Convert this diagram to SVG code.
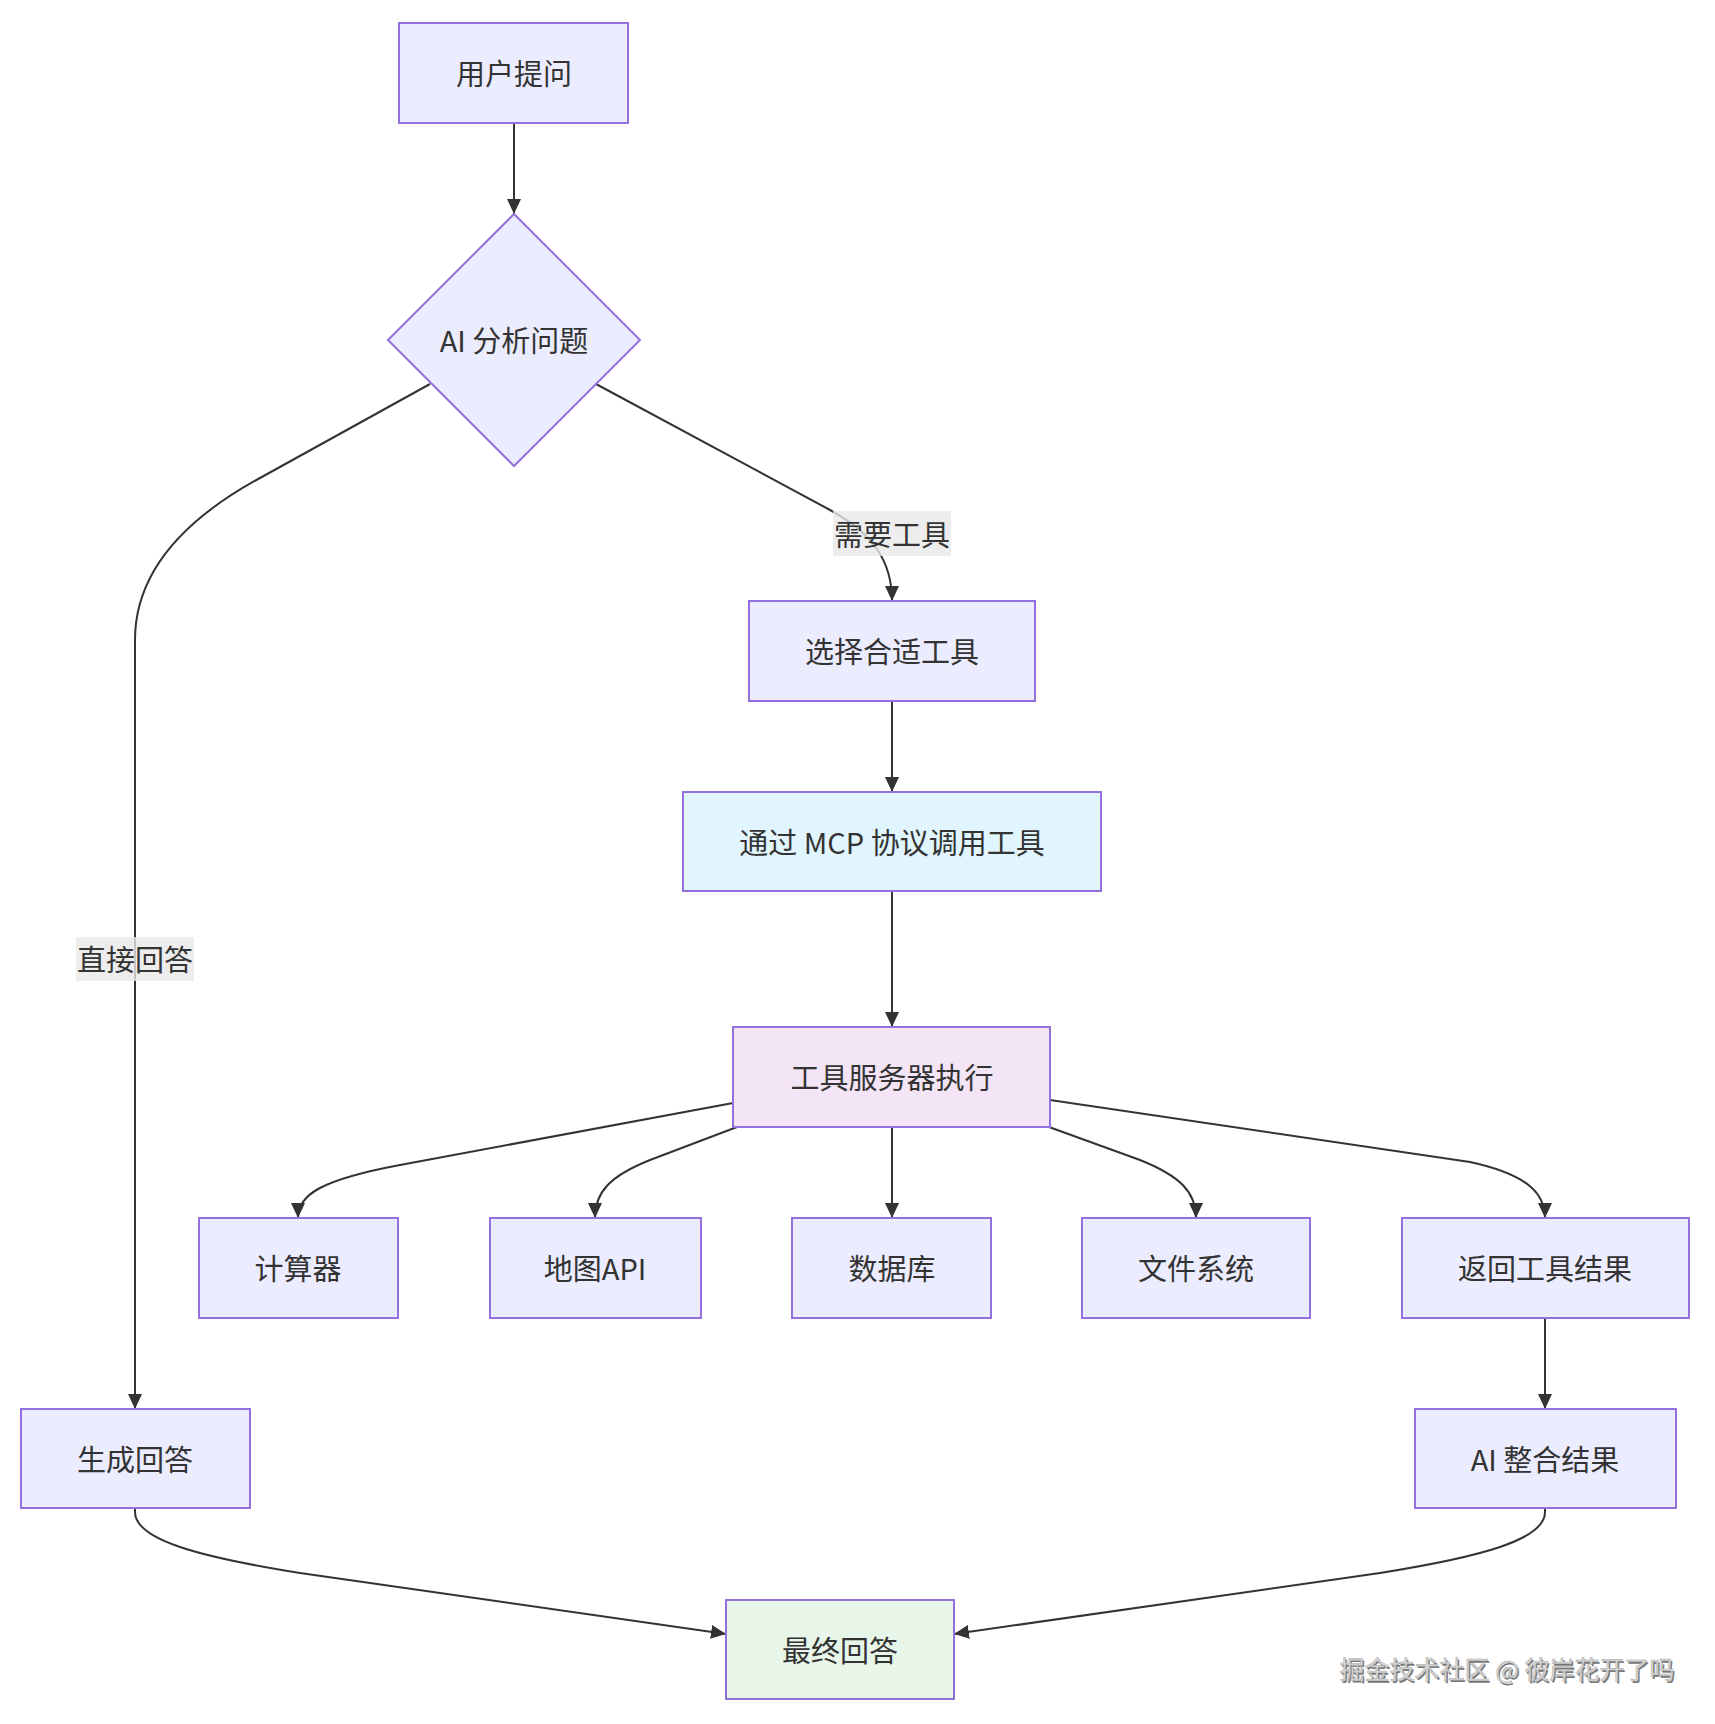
<svg xmlns="http://www.w3.org/2000/svg" width="1715" height="1724" viewBox="0 0 1715 1724">
<defs>
<style>
.node rect,.node polygon{fill:#ECECFF;stroke:#9370DB;stroke-width:2}
.node text,.lbl text{font-family:"Noto Sans CJK SC","Noto Sans",sans-serif;font-size:29px;fill:#333;text-anchor:middle;dominant-baseline:central}
.edge{fill:none;stroke:#333;stroke-width:2;marker-end:url(#arr)}
.lbl rect{fill:#e8e8e8;fill-opacity:0.8}
.wm{font-family:"Noto Sans CJK SC",sans-serif;font-size:25px;text-anchor:middle;dominant-baseline:central}
</style>
<marker id="arr" markerUnits="userSpaceOnUse" markerWidth="16" markerHeight="16" refX="15" refY="8" orient="auto">
<path d="M0,1 L15,8 L0,15 z" fill="#333"/>
</marker>
</defs>
<rect width="1715" height="1724" fill="#ffffff"/>
<g id="connectors">
<path class="edge" d="M514,123 L514,214"/>
<path class="edge" d="M596,384 L830,510 C872,533 892,560 892,601"/>
<path class="edge" d="M430,384 L260,478 Q135,546 135,640 L135,1409"/>
<path class="edge" d="M892,701 L892,792"/>
<path class="edge" d="M892,891 L892,1027"/>
<path class="edge" d="M733,1103 L400,1165 C320,1180 298,1195 298,1218"/>
<path class="edge" d="M737,1127 L650,1160 C610,1176 595,1192 595,1218"/>
<path class="edge" d="M892,1127 L892,1218"/>
<path class="edge" d="M1049,1127 L1140,1160 C1180,1176 1196,1192 1196,1218"/>
<path class="edge" d="M1050,1100 L1470,1162 C1530,1175 1545,1195 1545,1218"/>
<path class="edge" d="M1545,1318 L1545,1409"/>
<path class="edge" d="M135,1508 L135,1512 C135,1540 200,1557 300,1573 L726,1634"/>
<path class="edge" d="M1545,1508 L1545,1512 C1545,1540 1480,1557 1380,1573 L954,1634"/>
</g>
<g id="edge-labels">
<g class="lbl" id="label-need-tool"><rect x="833" y="511" width="118" height="45"/><text x="892" y="533">需要工具</text></g>
<g class="lbl" id="label-direct"><rect x="76" y="937" width="118" height="44"/><text x="135" y="958">直接回答</text></g>
</g>
<g class="node" id="node-question"><rect x="399" y="23" width="229" height="100"/><text x="514" y="72">用户提问</text></g>
<g class="node" id="node-analyze"><polygon points="514,214 640,340 514,466 388,340"/><text x="514" y="339">AI 分析问题</text></g>
<g class="node" id="node-select"><rect x="749" y="601" width="286" height="100"/><text x="892" y="650">选择合适工具</text></g>
<g class="node" id="node-mcp"><rect x="683" y="792" width="418" height="99" style="fill:#e1f5fe"/><text x="892" y="841">通过 MCP 协议调用工具</text></g>
<g class="node" id="node-server"><rect x="733" y="1027" width="317" height="100" style="fill:#f3e5f5"/><text x="892" y="1076">工具服务器执行</text></g>
<g class="node" id="node-calc"><rect x="199" y="1218" width="199" height="100"/><text x="298" y="1267">计算器</text></g>
<g class="node" id="node-map"><rect x="490" y="1218" width="211" height="100"/><text x="595" y="1267">地图API</text></g>
<g class="node" id="node-db"><rect x="792" y="1218" width="199" height="100"/><text x="892" y="1267">数据库</text></g>
<g class="node" id="node-fs"><rect x="1082" y="1218" width="228" height="100"/><text x="1196" y="1267">文件系统</text></g>
<g class="node" id="node-return"><rect x="1402" y="1218" width="287" height="100"/><text x="1545" y="1267">返回工具结果</text></g>
<g class="node" id="node-generate"><rect x="21" y="1409" width="229" height="99"/><text x="135" y="1458">生成回答</text></g>
<g class="node" id="node-integrate"><rect x="1415" y="1409" width="261" height="99"/><text x="1545" y="1458">AI 整合结果</text></g>
<g class="node" id="node-final"><rect x="726" y="1600" width="228" height="99" style="fill:#e8f5e9"/><text x="840" y="1649">最终回答</text></g>
<g id="watermark">
<text class="wm" x="1508.5" y="1669.5" fill="#777">掘金技术社区 @ 彼岸花开了吗</text>
<text class="wm" x="1507" y="1668" fill="#d8d8d8" stroke="#aaa" stroke-width="0.5">掘金技术社区 @ 彼岸花开了吗</text>
</g>
</svg>
